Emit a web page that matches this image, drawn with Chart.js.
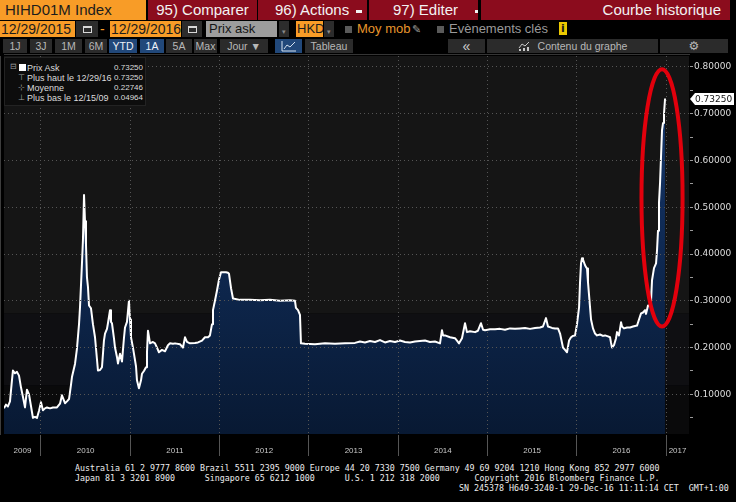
<!DOCTYPE html>
<html>
<head>
<meta charset="utf-8">
<title>HIHD01M Index - Courbe historique</title>
<script src="https://cdn.jsdelivr.net/npm/chart.js@4.4.0/dist/chart.umd.min.js"></script>
<style>
  body { margin: 0; background: #000; }
  #screen {
    position: relative; width: 736px; height: 502px; overflow: hidden; background: #000;
    font-family: "Liberation Sans", Arial, sans-serif;
  }
  .b { position: absolute; box-sizing: border-box; white-space: nowrap; overflow: hidden; }

  /* ligne 1 : titre + menus rouges */
  .row1 { top: 0; height: 20px; font-size: 15px; line-height: 20px; }
  .orange { background: #f89c27; color: #1c1c1c; }
  .red { background: #8b0c1d; color: #f2f2f2; }
  .dd { display: inline-block; width: 6px; height: 3px; background: #f2f2f2; vertical-align: middle; margin-left: 7px; }

  /* ligne 2 : dates, prix, devise */
  .row2 { top: 21px; height: 16px; font-size: 14px; line-height: 16px; }
  .txt { font-size: 13px; }
  .dark { background: #2c2c2c; text-align: center; }
  .cal { display: inline-block; width: 7px; height: 4px; border: 1px solid #d8d8d8; border-top-width: 2px; vertical-align: middle; margin-top: -2px; }
  .arrow { color: #8a8a8a; font-size: 7px; }
  .chk { position: absolute; top: 26px; width: 7px; height: 7px; background: #5a5a5a; }

  /* ligne 3 : boutons */
  .row3 { top: 39px; height: 14px; font-size: 10.5px; line-height: 14px; background: #2b2b2b; color: #b8b8b8; text-align: center; }
  .row3.on { background: #21487a; color: #eef2f8; }

  #chart { position: absolute; left: 0; top: 54px; }

  /* encart de légende */
  #legend {
    position: absolute; left: 4px; top: 57px; width: 142px; height: 49px;
    background: #0d0d0d; border: 1px solid #232323; box-sizing: border-box;
    font-family: "Liberation Sans", Arial, sans-serif; font-size: 9px; color: #dcdcdc;
  }
  #legend .r { position: absolute; left: 0; right: 0; height: 10px; line-height: 10px; }
  #legend .g { position: absolute; left: 13px; color: #a0a0a0; font-size: 8px; }
  #legend .l { position: absolute; left: 22px; }
  #legend .v { position: absolute; right: 2px; font-size: 8px; }
  #legend .sq { position: absolute; left: 14px; top: 1px; width: 7px; height: 7px; background: #fff; }
  #legend .tree { position: absolute; left: 5px; color: #a0a0a0; font-size: 8px; line-height: 10px; }

  /* pied de page */
  .foot { position: absolute; font-family: "DejaVu Sans Mono", monospace; font-size: 8.3px; line-height: 10px; color: #ededed; white-space: pre; }
</style>
</head>
<body>
<div id="screen">
  <!-- ligne 1 -->
  <div class="b row1 orange" style="left:0;width:146px;padding-left:5px">HIHD01M Index</div>
  <div class="b row1 red" style="left:148px;width:109px;text-align:center">95) Comparer</div>
  <div class="b row1 red" style="left:258px;width:109px;padding-left:17px">96) Actions<span class="dd"></span></div>
  <div class="b row1 red" style="left:369px;width:109px;padding-left:24px">97) Editer<span class="dd" style="margin-left:17px"></span></div>
  <div class="b row1 red" style="left:481px;width:249px;text-align:right;padding-right:9px">Courbe historique</div>

  <!-- ligne 2 -->
  <div class="b row2 orange" style="left:0;width:75px;padding-left:1px">12/29/2015</div>
  <div class="b row2 dark" style="left:76px;width:22px"><span class="cal"></span></div>
  <div class="b row2" style="left:100px;width:8px;color:#f89c27">-</div>
  <div class="b row2 orange" style="left:110px;width:71px;padding-left:1px">12/29/2016</div>
  <div class="b row2 dark" style="left:182px;width:20px"><span class="cal"></span></div>
  <div class="b row2 txt" style="left:206px;width:71px;padding-left:3px;background:#9d9d9d;color:#151515">Prix ask</div>
  <div class="b row2 dark" style="left:279px;width:10px"><span class="arrow">▾</span></div>
  <div class="b row2 orange txt" style="left:296px;width:27px;padding-left:1px">HKD</div>
  <div class="b row2 dark" style="left:324px;width:10px"><span class="arrow">▾</span></div>
  <div class="chk" style="left:345px"></div>
  <div class="b row2 txt" style="left:357px;width:54px;color:#e8962c">Moy mob</div>
  <div class="b row2" style="left:412px;width:12px;color:#9a9a9a;font-size:11px">✎</div>
  <div class="chk" style="left:437px"></div>
  <div class="b row2 txt" style="left:449px;width:108px;color:#9a9a9a">Evènements clés</div>
  <div class="b" style="left:559px;top:22px;width:8px;height:13px;background:#ebc800;color:#1a1a1a;font:bold 11px 'DejaVu Sans';line-height:13px;text-align:center">i</div>

  <!-- ligne 3 -->
  <div class="b row3" style="left:3px;width:24px">1J</div>
  <div class="b row3" style="left:30px;width:22px">3J</div>
  <div class="b row3" style="left:55px;width:27px">1M</div>
  <div class="b row3" style="left:85px;width:22px">6M</div>
  <div class="b row3 on" style="left:109px;width:28px">YTD</div>
  <div class="b row3 on" style="left:140px;width:24px">1A</div>
  <div class="b row3" style="left:166px;width:26px">5A</div>
  <div class="b row3" style="left:194px;width:23px">Max</div>
  <div class="b row3" style="left:220px;width:48px">Jour ▼</div>
  <div class="b row3 on" style="left:275px;width:27px">
    <svg width="16" height="11" style="vertical-align:middle;margin-top:-2px">
      <polyline points="1,0 1,10 15,10" fill="none" stroke="#d6e2f0" stroke-width="1"/>
      <polyline points="3,8 6,4 9,6 14,1" fill="none" stroke="#d6e2f0" stroke-width="1"/>
    </svg>
  </div>
  <div class="b row3" style="left:305px;width:48px">Tableau</div>
  <div class="b row3" style="left:448px;width:37px;font-size:14px;color:#d0d0d0">«</div>
  <div class="b row3" style="left:487px;width:171px">
    <svg width="12" height="10" style="vertical-align:middle;margin:-2px 8px 0 0">
      <polyline points="1,7 4,3 7,5 11,1" fill="none" stroke="#c8c8c8" stroke-width="1"/>
      <rect x="1" y="8" width="2" height="2" fill="#c8c8c8"/><rect x="5" y="7" width="2" height="3" fill="#c8c8c8"/><rect x="9" y="6" width="2" height="4" fill="#c8c8c8"/>
    </svg>Contenu du graphe</div>
  <div class="b row3" style="left:660px;width:68px;font:12px 'DejaVu Sans';line-height:14px">⚙</div>

  <canvas id="chart" width="736" height="406"></canvas>

  <div id="legend"></div>

  <div class="foot" style="left:75px;top:463px">Australia 61 2 9777 8600 Brazil 5511 2395 9000 Europe 44 20 7330 7500 Germany 49 69 9204 1210 Hong Kong 852 2977 6000</div>
  <div class="foot" style="left:75px;top:473px">Japan 81 3 3201 8900      Singapore 65 6212 1000      U.S. 1 212 318 2000       Copyright 2016 Bloomberg Finance L.P.</div>
  <div class="foot" style="left:459px;top:483px">SN 245378 H649-3240-1 29-Dec-16 11:11:14 CET  GMT+1:00</div>
</div>

<script>
// HIHD01M Index - prix ask (HKD), fixings de 2009 à fin 2016

// dates en années décimales
const dates = [
  2009.586, 2009.608, 2009.630, 2009.653, 2009.675, 2009.686, 2009.709, 2009.731, 2009.754, 2009.776,
  2009.798, 2009.821, 2009.843, 2009.866, 2009.888, 2009.910, 2009.933, 2009.955, 2009.978, 2010.000,
  2010.022, 2010.045, 2010.067, 2010.101, 2010.134, 2010.179, 2010.213, 2010.235, 2010.269, 2010.291,
  2010.314, 2010.336, 2010.347, 2010.381, 2010.403, 2010.426, 2010.437, 2010.459, 2010.470, 2010.482,
  2010.493, 2010.504, 2010.515, 2010.526, 2010.538, 2010.560, 2010.582, 2010.605, 2010.627, 2010.638,
  2010.661, 2010.683, 2010.705, 2010.717, 2010.739, 2010.750, 2010.773, 2010.784, 2010.795, 2010.817,
  2010.829, 2010.851, 2010.862, 2010.885, 2010.907, 2010.929, 2010.941, 2010.963, 2010.985, 2010.997,
  2011.008, 2011.030, 2011.041, 2011.064, 2011.075, 2011.097, 2011.120, 2011.131, 2011.153, 2011.176,
  2011.187, 2011.198, 2011.221, 2011.254, 2011.277, 2011.299, 2011.321, 2011.355, 2011.389, 2011.422,
  2011.445, 2011.478, 2011.501, 2011.557, 2011.590, 2011.613, 2011.635, 2011.668, 2011.724, 2011.758,
  2011.803, 2011.836, 2011.870, 2011.892, 2011.915, 2011.926, 2011.948, 2011.971, 2011.993, 2012.016,
  2012.049, 2012.072, 2012.094, 2012.105, 2012.128, 2012.150, 2012.228, 2012.340, 2012.452, 2012.564,
  2012.676, 2012.788, 2012.844, 2012.855, 2012.878, 2012.900, 2012.911, 2012.956, 2013.068, 2013.180,
  2013.292, 2013.404, 2013.516, 2013.572, 2013.628, 2013.684, 2013.740, 2013.796, 2013.852, 2013.908,
  2013.964, 2014.020, 2014.076, 2014.132, 2014.188, 2014.244, 2014.300, 2014.356, 2014.412, 2014.468,
  2014.490, 2014.502, 2014.524, 2014.580, 2014.636, 2014.658, 2014.681, 2014.714, 2014.748, 2014.770,
  2014.804, 2014.860, 2014.893, 2014.927, 2014.950, 2014.972, 2015.028, 2015.084, 2015.140, 2015.196,
  2015.252, 2015.308, 2015.364, 2015.420, 2015.476, 2015.532, 2015.588, 2015.621, 2015.655, 2015.677,
  2015.722, 2015.756, 2015.789, 2015.812, 2015.845, 2015.868, 2015.890, 2015.913, 2015.935, 2015.957,
  2015.980, 2016.002, 2016.025, 2016.036, 2016.047, 2016.058, 2016.069, 2016.092, 2016.103, 2016.114,
  2016.125, 2016.148, 2016.159, 2016.181, 2016.204, 2016.226, 2016.260, 2016.293, 2016.316, 2016.349,
  2016.372, 2016.383, 2016.394, 2016.416, 2016.439, 2016.450, 2016.472, 2016.495, 2016.506, 2016.528,
  2016.562, 2016.596, 2016.629, 2016.674, 2016.696, 2016.719, 2016.741, 2016.764, 2016.775, 2016.797,
  2016.820, 2016.831, 2016.842, 2016.864, 2016.887, 2016.898, 2016.909, 2016.920, 2016.932, 2016.943,
  2016.954, 2016.965, 2016.976, 2016.988
];

// prix ask
const askPrice = [
  0.070, 0.078, 0.074, 0.085, 0.130, 0.151, 0.145, 0.148, 0.140, 0.115,
  0.095, 0.072, 0.110, 0.100, 0.075, 0.050, 0.052, 0.0496, 0.065, 0.083,
  0.066, 0.070, 0.072, 0.070, 0.072, 0.072, 0.080, 0.098, 0.081, 0.085,
  0.090, 0.120, 0.137, 0.165, 0.198, 0.250, 0.286, 0.380, 0.430, 0.526,
  0.470, 0.420, 0.350, 0.330, 0.290, 0.284, 0.250, 0.222, 0.175, 0.151,
  0.152, 0.158, 0.215, 0.230, 0.240, 0.252, 0.280, 0.255, 0.252, 0.220,
  0.200, 0.180, 0.166, 0.187, 0.170, 0.220, 0.243, 0.255, 0.300, 0.260,
  0.222, 0.200, 0.187, 0.160, 0.130, 0.113, 0.130, 0.144, 0.150, 0.158,
  0.190, 0.236, 0.209, 0.212, 0.209, 0.200, 0.190, 0.195, 0.192, 0.205,
  0.209, 0.208, 0.209, 0.207, 0.200, 0.222, 0.212, 0.209, 0.210, 0.211,
  0.215, 0.222, 0.222, 0.226, 0.250, 0.280, 0.300, 0.322, 0.345, 0.361,
  0.361, 0.361, 0.360, 0.358, 0.327, 0.305, 0.302, 0.302, 0.301, 0.302,
  0.300, 0.301, 0.300, 0.285, 0.280, 0.270, 0.209, 0.208, 0.207, 0.209,
  0.208, 0.209, 0.210, 0.213, 0.211, 0.214, 0.212, 0.216, 0.211, 0.214,
  0.212, 0.215, 0.212, 0.211, 0.213, 0.214, 0.215, 0.212, 0.213, 0.209,
  0.237, 0.226, 0.226, 0.222, 0.220, 0.215, 0.209, 0.220, 0.252, 0.233,
  0.235, 0.233, 0.236, 0.252, 0.238, 0.237, 0.239, 0.239, 0.240, 0.238,
  0.241, 0.240, 0.241, 0.242, 0.240, 0.242, 0.243, 0.245, 0.263, 0.245,
  0.242, 0.241, 0.241, 0.230, 0.200, 0.195, 0.190, 0.215, 0.222, 0.225,
  0.226, 0.250, 0.286, 0.340, 0.380, 0.391, 0.388, 0.376, 0.372, 0.369,
  0.340, 0.286, 0.260, 0.241, 0.230, 0.226, 0.228, 0.225, 0.226, 0.224,
  0.222, 0.210, 0.200, 0.205, 0.220, 0.233, 0.226, 0.254, 0.245, 0.241,
  0.243, 0.243, 0.245, 0.247, 0.260, 0.273, 0.275, 0.280, 0.272, 0.290,
  0.290, 0.300, 0.344, 0.370, 0.380, 0.408, 0.450, 0.510, 0.553, 0.610,
  0.665, 0.680, 0.700, 0.7325
];

// axes
const yearLabels = ['2009', '2010', '2011', '2012', '2013', '2014', '2015', '2016', '2017'];
const priceTicks = [0.10, 0.20, 0.30, 0.40, 0.50, 0.60, 0.70, 0.80];

// encart de légende
const legendGlyphs = ['', '⊤', '⊹', '⊥'];
const legendLabels = ['Prix Ask', 'Plus haut le 12/29/16', 'Moyenne', 'Plus bas le 12/15/09'];
const legendValues = ['0.73250', '0.73250', '0.22746', '0.04964'];

// zone entourée en rouge (hausse de fin 2016)
const circled = { from: 2016.724, to: 2017.184, low: 0.245, high: 0.795 };

// bornes des axes
const xMin = 2009.586, xMax = 2017.256;
const yMin = 0.0152, yMax = 0.8234;

// fonds du graphe (bandes horizontales)
const bandEdges = [0.119, 0.273];
const bandColors = ['#0a0a0b', '#0f0f12', '#151515'];

document.addEventListener('DOMContentLoaded', function() {
    buildLegend();
    drawChart();
});

function buildLegend() {
    const box = document.getElementById('legend');
    let html = '<span class="tree" style="top:4px">⊟</span>';
    legendLabels.forEach((label, i) => {
        const top = 5 + i * 10;
        html += `<div class="r" style="top:${top}px">` +
                (i === 0 ? '<span class="sq"></span>' : `<span class="g">${legendGlyphs[i]}</span>`) +
                `<span class="l">${label}</span><span class="v">${legendValues[i]}</span></div>`;
    });
    box.innerHTML = html;
}

// bandes de fond derrière la courbe
const backdrop = {
    id: 'backdrop',
    beforeDraw(chart) {
        const { ctx, chartArea: a, scales: { y } } = chart;
        const edges = [yMin, ...bandEdges, yMax];
        ctx.save();
        for (let i = 0; i < bandColors.length; i++) {
            const top = y.getPixelForValue(edges[i + 1]);
            const bottom = y.getPixelForValue(edges[i]);
            ctx.fillStyle = bandColors[i];
            ctx.fillRect(a.left, top, a.right - a.left, bottom - top);
        }
        ctx.restore();
    }
};

// ellipse rouge + étiquette du dernier prix
const marks = {
    id: 'marks',
    afterDraw(chart) {
        const { ctx, scales: { x, y } } = chart;
        const left = x.getPixelForValue(circled.from), right = x.getPixelForValue(circled.to);
        const top = y.getPixelForValue(circled.high), bottom = y.getPixelForValue(circled.low);
        ctx.save();
        ctx.strokeStyle = '#e2000c';
        ctx.lineWidth = 4;
        ctx.beginPath();
        ctx.ellipse((left + right) / 2, (top + bottom) / 2, (right - left) / 2, (bottom - top) / 2, 0, 0, Math.PI * 2);
        ctx.stroke();

        const last = askPrice[askPrice.length - 1];
        const ty = Math.round(y.getPixelForValue(last));
        const tx = y.left + 1;
        ctx.fillStyle = '#ffffff';
        ctx.beginPath();
        ctx.moveTo(tx, ty);
        ctx.lineTo(tx + 5, ty - 6);
        ctx.lineTo(tx + 44, ty - 6);
        ctx.lineTo(tx + 44, ty + 6);
        ctx.lineTo(tx + 5, ty + 6);
        ctx.closePath();
        ctx.fill();
        ctx.fillStyle = '#111';
        ctx.font = '9px "DejaVu Sans"';
        ctx.textBaseline = 'middle';
        ctx.fillText(last.toFixed(5), tx + 5, ty + 1);
        ctx.restore();
    }
};

function drawChart() {
    const canvas = document.getElementById('chart');

    new Chart(canvas.getContext('2d'), {
        type: 'line',
        data: {
            datasets: [{
                label: 'Prix Ask',
                data: dates.map((d, i) => ({ x: d, y: askPrice[i] })),
                borderColor: '#ffffff',
                borderWidth: 2,
                borderJoinStyle: 'round',
                pointRadius: 0,
                tension: 0,
                fill: 'start',
                backgroundColor: function(context) {
                    const area = context.chart.chartArea;
                    if (!area) return '#0c2448';
                    const g = context.chart.ctx.createLinearGradient(0, area.top, 0, area.bottom);
                    g.addColorStop(0, '#163a72');
                    g.addColorStop(1, '#081933');
                    return g;
                }
            }]
        },
        options: {
            responsive: false,
            animation: false,
            layout: { padding: { left: 4, top: 2, right: 0, bottom: 0 } },
            plugins: {
                legend: { display: false },
                tooltip: { enabled: false }
            },
            scales: {
                x: {
                    type: 'linear',
                    min: xMin,
                    max: xMax,
                    afterBuildTicks: axis => {
                        // séparateurs d'années + libellés centrés sur la partie visible de chaque année
                        const t = [];
                        yearLabels.forEach(label => {
                            const yr = Number(label);
                            if (yr > xMin && yr < xMax) t.push({ value: yr });
                            t.push({ value: (Math.max(yr, xMin) + Math.min(yr + 1, xMax)) / 2 });
                        });
                        axis.ticks = t.sort((a, b) => a.value - b.value);
                    },
                    ticks: {
                        autoSkip: false,
                        maxRotation: 0,
                        padding: -10,
                        color: '#c8c8c8',
                        font: { family: 'Liberation Sans', size: 8 },
                        callback: v => Number.isInteger(v) ? '' : String(Math.floor(v))
                    },
                    grid: {
                        z: 1,
                        tickLength: 22,
                        color: c => (c.tick && Number.isInteger(c.tick.value)) ? '#555555' : 'rgba(0,0,0,0)',
                        tickColor: c => (c.tick && Number.isInteger(c.tick.value)) ? '#555555' : 'rgba(0,0,0,0)'
                    },
                    border: { color: '#6a6a6a', dash: [1, 3] },
                    afterFit: s => { s.height = 26; s.paddingLeft = 0; s.paddingRight = 0; }
                },
                y: {
                    position: 'right',
                    min: yMin,
                    max: yMax,
                    afterBuildTicks: axis => {
                        const t = [];
                        priceTicks.forEach(v => {
                            const half = Number((v - 0.05).toFixed(2));
                            if (half > yMin) t.push({ value: half });
                            t.push({ value: v });
                        });
                        axis.ticks = t;
                    },
                    ticks: {
                        autoSkip: false,
                        padding: 1,
                        color: '#dcdcdc',
                        font: { family: 'DejaVu Sans', size: 9 },
                        callback: v => priceTicks.includes(v) ? v.toFixed(5) : ''
                    },
                    grid: {
                        z: 1,
                        tickLength: 4,
                        color: c => (c.tick && priceTicks.includes(c.tick.value)) ? '#555555' : 'rgba(0,0,0,0)',
                        tickColor: '#9a9a9a'
                    },
                    border: { color: '#7a7a7a', dash: [1, 3] },
                    // pas de marge réservée pour les libellés extrêmes
                    afterFit: s => { s.width = 47; s.paddingTop = 0; s.paddingBottom = 0; }
                }
            }
        },
        plugins: [backdrop, marks]
    });
}
</script>
</body>
</html>
